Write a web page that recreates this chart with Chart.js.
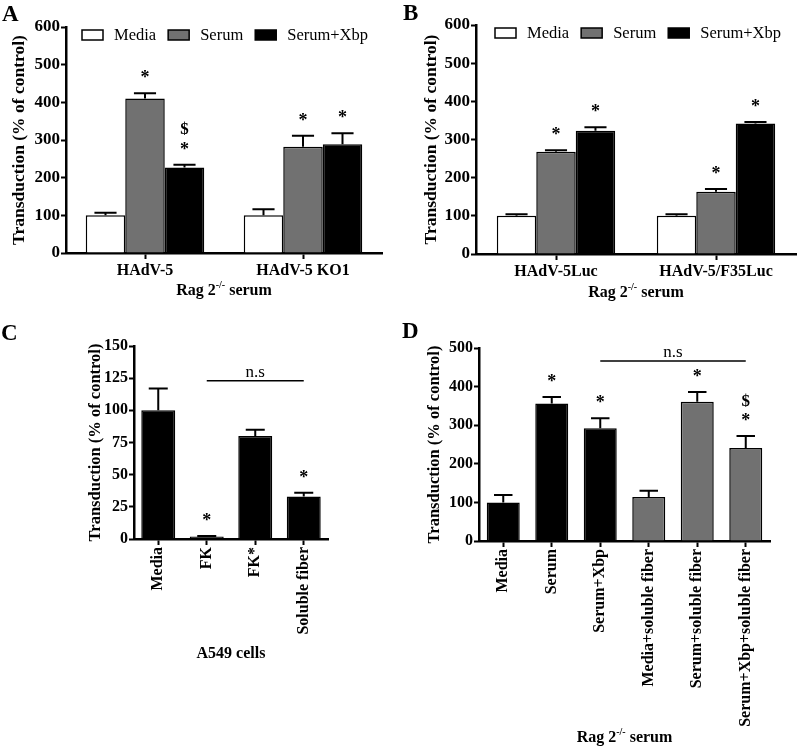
<!DOCTYPE html>
<html>
<head>
<meta charset="utf-8">
<script src="https://cdn.jsdelivr.net/npm/chart.js@4.4.1/dist/chart.umd.min.js"></script>
<style>
 body{margin:0;background:#fff;}
 #wrap{position:relative;width:800px;height:749px;overflow:hidden;}
 canvas{position:absolute;}
</style>
</head>
<body>
<div id="wrap">
 <canvas id="chartA" width="400" height="310" style="left:0;top:0"></canvas>
 <canvas id="chartB" width="400" height="310" style="left:400px;top:0"></canvas>
 <canvas id="chartC" width="400" height="439" style="left:0;top:310px"></canvas>
 <canvas id="chartD" width="400" height="439" style="left:400px;top:310px"></canvas>
</div>
<script>
const FONT="'Liberation Serif','Times New Roman',serif";
const BLACK="#000",GRAY="#717171",WHITE="#fff";
const SERIES=["Media","Serum","Serum+Xbp"];
const RAG=[{t:"Rag 2"},{t:"-/-",sup:true},{t:" serum"}];

// panel A
const aLabels=["HAdV-5","HAdV-5 KO1"];
const aMedia=[100,100], aMediaErr=[7,16];
const aSerum=[410,282], aSerumErr=[14,29];
const aXbp=[227,289], aXbpErr=[7,29];
const aMarks=[["",""],["*","*"],["$*","*"]];

// panel B
const bLabels=["HAdV-5Luc","HAdV-5/F35Luc"];
const bMedia=[100,100], bMediaErr=[4,4];
const bSerum=[268,163], bSerumErr=[4,7];
const bXbp=[323,342], bXbpErr=[9,4];
const bMarks=[["",""],["*","*"],["*","*"]];

// panel C
const cLabels=["Media","FK","FK*","Soluble fiber"];
const cValues=[100,2,80,33];
const cErr=[17,0.4,5,3];
const cMarks=["","*","","*"];
const cNs={from:1,to:3,value:123};

// panel D
const dLabels=["Media","Serum","Serum+Xbp","Media+soluble fiber","Serum+soluble fiber","Serum+Xbp+soluble fiber"];
const dValues=[100,356,292,114,361,241];
const dErr=[19,17,26,16,25,31];
const dMarks=["","*","*","","*","$*"];
const dNs={from:2,to:5,value:466};

function deco(o){
 return {
  id:"deco",
  afterDatasetsDraw(chart){
   const c=chart.ctx,ys=chart.scales.y,a=chart.chartArea;
   c.save();
   // error bars + significance marks
   chart.data.datasets.forEach((ds,di)=>{
    chart.getDatasetMeta(di).data.forEach((bar,i)=>{
     const top=ys.getPixelForValue(ds.data[i]+ds.err[i]);
     const cap=bar.width*0.28;
     c.strokeStyle=BLACK;c.lineWidth=2;
     c.beginPath();
     c.moveTo(bar.x,bar.y);c.lineTo(bar.x,top);
     c.moveTo(bar.x-cap,top);c.lineTo(bar.x+cap,top);
     c.stroke();
     const m=ds.marks[i]||"";
     c.fillStyle=BLACK;c.textAlign="center";c.textBaseline="alphabetic";
     for(let k=m.length-1,n=0;k>=0;k--,n++){
      const ch=m[k],cy=top-19-n*17;
      if(ch=="$"){c.font="bold 17px "+FONT;c.fillText(ch,bar.x,cy+5.5);}
      else{c.font="bold 18px "+FONT;c.fillText(ch,bar.x,cy+9);}
     }
    });
   });
   // n.s bracket
   if(o.ns){
    const xs=chart.scales.x;
    const x1=xs.getPixelForValue(o.ns.from),x2=xs.getPixelForValue(o.ns.to);
    const yy=ys.getPixelForValue(o.ns.value);
    c.lineWidth=1.5;c.beginPath();c.moveTo(x1,yy);c.lineTo(x2,yy);c.stroke();
    c.font="17px "+FONT;c.textBaseline="alphabetic";
    c.fillText("n.s",(x1+x2)/2,yy-4);
   }
   // legend
   if(o.legend){
    let x=a.left+o.legendDx;const y=a.top+3;
    c.font="16.5px "+FONT;c.textAlign="left";c.textBaseline="middle";
    chart.data.datasets.forEach(ds=>{
     c.fillStyle=ds.backgroundColor;c.fillRect(x,y,21,10);
     c.lineWidth=1.5;c.strokeStyle=BLACK;c.strokeRect(x,y,21,10);
     x+=32;c.fillStyle=BLACK;c.fillText(ds.label,x,y+5.5);
     x+=c.measureText(ds.label).width+12;
    });
   }
   // y title
   c.fillStyle=BLACK;
   c.save();
   c.translate(a.left-o.yTitleGap,(a.top+a.bottom)/2);
   c.rotate(-Math.PI/2);
   c.font="bold "+o.yTitleSize+"px "+FONT;c.textAlign="center";c.textBaseline="middle";
   c.fillText("Transduction (% of control)",0,0);
   c.restore();
   // x title (with optional superscript)
   const ty=a.bottom+o.xTitleGap;
   const parts=o.xTitle.map(p=>({t:p.t,sup:p.sup,f:(p.sup?"bold 10px ":"bold 16px ")+FONT}));
   let tw=0;parts.forEach(p=>{c.font=p.f;p.w=c.measureText(p.t).width;tw+=p.w;});
   let tx=(a.left+a.right)/2-tw/2;
   c.textAlign="left";c.textBaseline="middle";
   parts.forEach(p=>{c.font=p.f;c.fillText(p.t,tx,p.sup?ty-6:ty);tx+=p.w;});
   // panel letter
   c.font="bold 23px "+FONT;c.textAlign="left";c.textBaseline="alphabetic";
   c.fillText(o.letter,o.letterX,o.letterY);
   c.restore();
  }
 };
}

function makeChart(id,o){
 const cv=document.getElementById(id);
 const W=cv.width,H=cv.height;
 return new Chart(cv,{
  type:"bar",
  data:{labels:o.labels,datasets:o.sets.map(s=>({
   label:s.label,data:s.data,err:s.err,marks:s.marks,
   backgroundColor:s.color,borderColor:BLACK,borderWidth:1.5
  }))},
  options:{
   responsive:false,animation:false,devicePixelRatio:1,
   layout:{padding:{left:o.plot.l-o.yW,right:W-o.plot.r,top:o.plot.t,bottom:H-o.plot.b-o.xH}},
   datasets:{bar:{categoryPercentage:o.catPct,barPercentage:1}},
   plugins:{legend:{display:false},tooltip:{enabled:false}},
   scales:{
    x:{
     grid:{display:true,drawOnChartArea:false,offset:false,tickLength:6,tickWidth:2,tickColor:BLACK},
     border:{color:BLACK,width:2.5},
     ticks:{color:BLACK,autoSkip:false,minRotation:o.rot,maxRotation:o.rot,padding:2,
      font:{family:FONT,size:16,weight:"bold"}},
     afterFit:s=>{s.height=o.xH;}
    },
    y:{
     min:0,max:o.yMax,
     grid:{drawOnChartArea:false,tickLength:5,tickWidth:2,tickColor:BLACK},
     border:{color:BLACK,width:2.5},
     ticks:{stepSize:o.yStep,color:BLACK,padding:1,font:{family:FONT,size:o.ySize,weight:"bold"}},
     afterFit:s=>{s.width=o.yW;}
    }
   }
  },
  plugins:[deco(o)]
 });
}

makeChart("chartA",{
 labels:aLabels,
 sets:[
  {label:SERIES[0],data:aMedia,err:aMediaErr,marks:aMarks[0],color:WHITE},
  {label:SERIES[1],data:aSerum,err:aSerumErr,marks:aMarks[1],color:GRAY},
  {label:SERIES[2],data:aXbp,err:aXbpErr,marks:aMarks[2],color:BLACK}
 ],
 plot:{l:66,r:382,t:27,b:253},yW:40,xH:30,catPct:0.75,rot:0,
 yMax:600,yStep:100,ySize:17,legend:true,legendDx:16,
 yTitleGap:47,yTitleSize:17.5,xTitle:RAG,xTitleGap:38,letter:"A",letterX:2,letterY:21
});

makeChart("chartB",{
 labels:bLabels,
 sets:[
  {label:SERIES[0],data:bMedia,err:bMediaErr,marks:bMarks[0],color:WHITE},
  {label:SERIES[1],data:bSerum,err:bSerumErr,marks:bMarks[1],color:GRAY},
  {label:SERIES[2],data:bXbp,err:bXbpErr,marks:bMarks[2],color:BLACK}
 ],
 plot:{l:76,r:396,t:25,b:254},yW:40,xH:30,catPct:0.74,rot:0,
 yMax:600,yStep:100,ySize:17,legend:true,legendDx:19,
 yTitleGap:45,yTitleSize:17.5,xTitle:RAG,xTitleGap:39,letter:"B",letterX:3,letterY:20
});

makeChart("chartC",{
 labels:cLabels,
 sets:[{label:"C",data:cValues,err:cErr,marks:cMarks,color:BLACK}],
 plot:{l:134,r:328,t:36,b:229},yW:40,xH:120,catPct:0.7,rot:90,
 yMax:150,yStep:25,ySize:16,legend:false,ns:cNs,
 yTitleGap:38,yTitleSize:16.5,xTitle:[{t:"A549 cells"}],xTitleGap:115,letter:"C",letterX:1,letterY:30
});

makeChart("chartD",{
 labels:dLabels,
 sets:[{label:"D",data:dValues,err:dErr,marks:dMarks,color:dValues.map((v,i)=>i<3?BLACK:GRAY)}],
 plot:{l:79,r:370,t:38,b:231},yW:40,xH:200,catPct:0.68,rot:90,
 yMax:500,yStep:100,ySize:16,legend:false,ns:dNs,
 yTitleGap:44,yTitleSize:16.5,xTitle:RAG,xTitleGap:197,letter:"D",letterX:2,letterY:28
});
</script>
</body>
</html>
